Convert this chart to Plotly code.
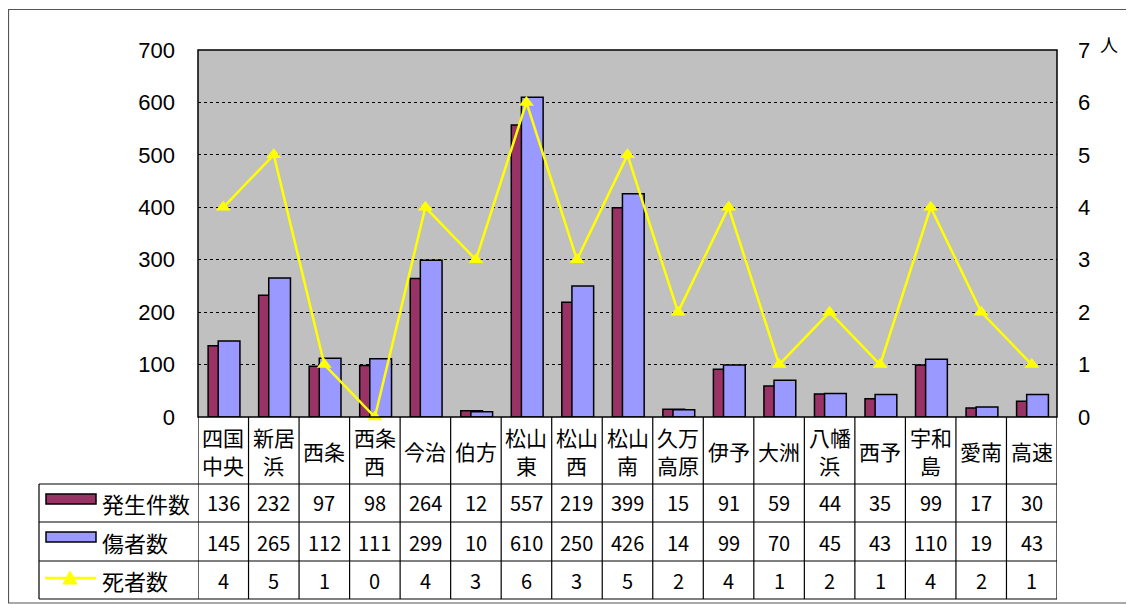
import plotly.graph_objects as go

categories = ["四国<br>中央", "新居<br>浜", "西条", "西条<br>西", "今治", "伯方", "松山<br>東", "松山<br>西",
              "松山<br>南", "久万<br>高原", "伊予", "大洲", "八幡<br>浜", "西予", "宇和<br>島", "愛南", "高速"]
incidents = [136, 232, 97, 98, 264, 12, 557, 219, 399, 15, 91, 59, 44, 35, 99, 17, 30]
injured = [145, 265, 112, 111, 299, 10, 610, 250, 426, 14, 99, 70, 45, 43, 110, 19, 43]
deaths = [4, 5, 1, 0, 4, 3, 6, 3, 5, 2, 4, 1, 2, 1, 4, 2, 1]
series_names = ["発生件数", "傷者数", "死者数"]
left_ticks = [0, 100, 200, 300, 400, 500, 600, 700]
right_ticks = [0, 1, 2, 3, 4, 5, 6, 7]

MAROON = "#993366"
BLUE = "#9999FF"
YELLOW = "#FFFF00"
JP = "Noto Sans CJK JP"
NUM = "Liberation Sans, Arial"

# page offset (body margin)
OFF = 8
W, H = 1134 - OFF, 604 - OFF
L, R, T, B = 198, 1057, 50, 417   # plot area in page pixels
n = len(categories)
xs = list(range(n))

def py(ypx):
    return (B - ypx) / (B - T)

def px(xpx):
    return (xpx - L) / (R - L)

fig = go.Figure()
fig.add_trace(go.Bar(x=xs, y=incidents, name=series_names[0], marker=dict(color=MAROON, line=dict(color="black", width=1.5)),
                     offset=-0.30, width=0.43))
fig.add_trace(go.Bar(x=xs, y=injured, name=series_names[1], marker=dict(color=BLUE, line=dict(color="black", width=1.5)),
                     offset=-0.10, width=0.43))
fig.add_trace(go.Scatter(x=xs, y=deaths, name=series_names[2], yaxis="y2", mode="lines+markers",
                         line=dict(color=YELLOW, width=2.5),
                         marker=dict(symbol="triangle-up", size=13, color=YELLOW),
                         cliponaxis=False))

shapes = []
# outer frame
shapes.append(dict(type="rect", xref="paper", yref="paper", x0=px(8.5), x1=px(1133), y0=py(603), y1=py(9.5),
                   line=dict(color="#555555", width=1.2), layer="below"))
# plot area border
shapes.append(dict(type="rect", xref="paper", yref="paper", x0=0, x1=1, y0=0, y1=1,
                   line=dict(color="black", width=1.5)))
# table horizontal lines
row_y = [484, 522, 561, 599]
for yy in row_y:
    shapes.append(dict(type="line", xref="paper", yref="paper", x0=px(39), x1=1, y0=py(yy), y1=py(yy),
                       line=dict(color="black", width=1.2)))
# left edge of legend column
shapes.append(dict(type="line", xref="paper", yref="paper", x0=px(39), x1=px(39), y0=py(484), y1=py(599),
                   line=dict(color="black", width=1.2)))
# vertical lines between categories
for i in range(n + 1):
    shapes.append(dict(type="line", xref="x", yref="paper", x0=i - 0.5, x1=i - 0.5, y0=0, y1=py(599),
                       line=dict(color="black", width=1.2)))
# legend keys
shapes.append(dict(type="rect", xref="paper", yref="paper", x0=px(46), x1=px(96), y0=py(504), y1=py(494),
                   fillcolor=MAROON, line=dict(color="black", width=1.5)))
shapes.append(dict(type="rect", xref="paper", yref="paper", x0=px(46), x1=px(96), y0=py(542), y1=py(532),
                   fillcolor=BLUE, line=dict(color="black", width=1.5)))
shapes.append(dict(type="line", xref="paper", yref="paper", x0=px(45), x1=px(96), y0=py(578), y1=py(578),
                   line=dict(color=YELLOW, width=2.5)))
shapes.append(dict(type="path", xref="paper", yref="paper",
                   path=f"M {px(63)} {py(584)} L {px(77)} {py(584)} L {px(70)} {py(571)} Z",
                   fillcolor=YELLOW, line=dict(color=YELLOW, width=1)))

ann = []
# category labels
for i, c in enumerate(categories):
    parts = c.split("<br>")
    if len(parts) == 1:
        ann.append(dict(x=i, y=py(451), xref="x", yref="paper", text=parts[0], showarrow=False,
                        font=dict(family=JP, size=21, color="black"), xanchor="center", yanchor="middle"))
    else:
        for k, p in enumerate(parts):
            ann.append(dict(x=i, y=py(437 + 28 * k), xref="x", yref="paper", text=p, showarrow=False,
                            font=dict(family=JP, size=21, color="black"), xanchor="center", yanchor="middle"))
# table values
row_centers = [503, 542, 580]
for vals, yc in zip([incidents, injured, deaths], row_centers):
    for i, v in enumerate(vals):
        ann.append(dict(x=i, y=py(yc), xref="x", yref="paper", text=str(v), showarrow=False,
                        font=dict(family=JP, size=20, color="black"), xanchor="center", yanchor="middle"))
# legend labels
for name, yc in zip(series_names, row_centers):
    ann.append(dict(x=px(100), y=py(yc), xref="paper", yref="paper", text=name, showarrow=False,
                    font=dict(family=JP, size=22, color="black"), xanchor="left", yanchor="middle"))
# unit
ann.append(dict(x=px(1098), y=py(44), xref="paper", yref="paper", text="人", showarrow=False,
                font=dict(family=JP, size=18, color="black"), xanchor="left", yanchor="middle"))

fig.update_layout(
    width=W, height=H,
    margin=dict(l=L - OFF, r=(W + OFF) - R, t=T - OFF, b=(H + OFF) - B),
    paper_bgcolor="white", plot_bgcolor="#C0C0C0",
    barmode="overlay", showlegend=False,
    xaxis=dict(range=[-0.5, n - 0.5], showticklabels=False, showgrid=False, zeroline=False, ticks=""),
    yaxis=dict(range=[0, 700], tickvals=left_ticks, showgrid=True, gridcolor="black", griddash="dot",
               gridwidth=1, zeroline=False, ticks="", ticklabelstandoff=22,
               tickfont=dict(family=NUM, size=22, color="black")),
    yaxis2=dict(range=[0, 7], tickvals=right_ticks, overlaying="y", side="right", showgrid=False,
                zeroline=False, ticks="", ticklabelstandoff=20,
                tickfont=dict(family=NUM, size=22, color="black")),
    shapes=shapes, annotations=ann,
)

fig.write_html("out.html")
